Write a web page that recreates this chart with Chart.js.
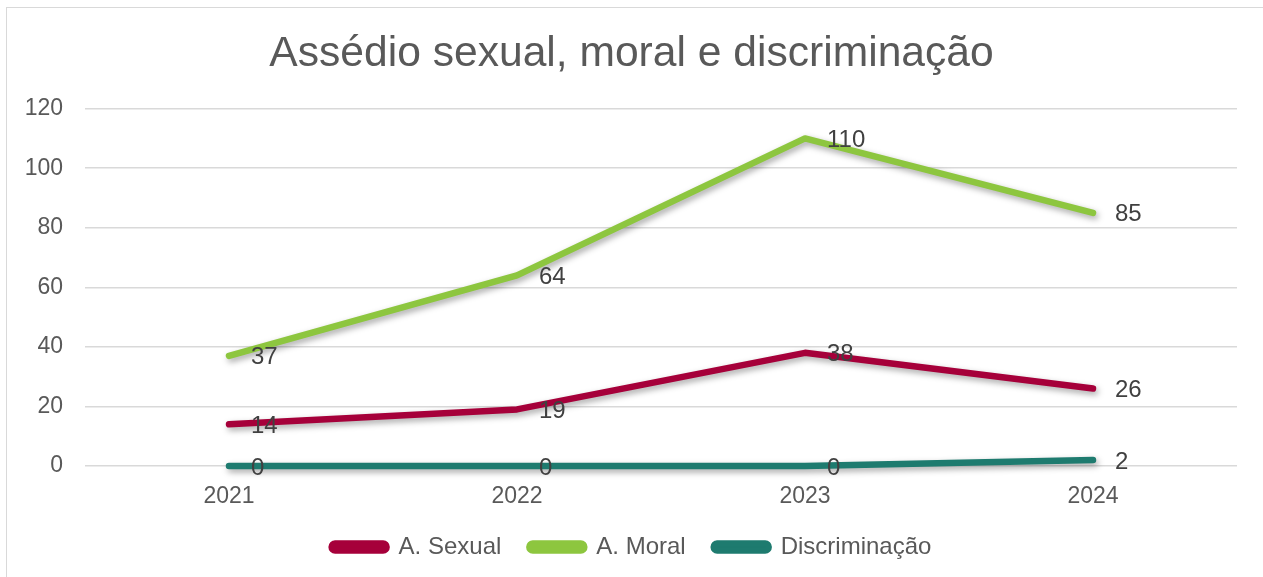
<!DOCTYPE html>
<html>
<head>
<meta charset="utf-8">
<script src="https://cdn.jsdelivr.net/npm/chart.js@4"></script>
<style>
  html, body { margin: 0; padding: 0; background: #fff; overflow: hidden; }
  #wrap { position: absolute; left: 0; top: 0; width: 1263px; height: 577px; }
  #frame { position: absolute; left: 6px; top: 7px; width: 1300px; height: 700px; border: 1.5px solid #d9d9d9; box-sizing: border-box; }
  canvas { position: absolute; left: 0; top: 0; }
</style>
</head>
<body>
<div id="wrap">
  <div id="frame"></div>
  <canvas id="c" width="1263" height="577"></canvas>
</div>
<script>
const titleText = 'Assédio sexual, moral e discriminação';
const categories = ['2021', '2022', '2023', '2024'];
const seriesNames = ['A. Sexual', 'A. Moral', 'Discriminação'];
const sexualValues = [14, 19, 38, 26];
const moralValues = [37, 64, 110, 85];
const discriminacaoValues = [0, 0, 0, 2];
const seriesColors = ['#A6003A', '#8DC63F', '#1E7B6F'];
const yMin = 0, yMax = 120, yStep = 20;

const FONT = "'Liberation Sans', Arial, sans-serif";

const shadowPlugin = {
  id: 'shadow',
  beforeDatasetDraw(chart) {
    const ctx = chart.ctx;
    ctx.save();
    ctx.shadowColor = 'rgba(0,0,0,0.35)';
    ctx.shadowBlur = 6;
    ctx.shadowOffsetX = 2;
    ctx.shadowOffsetY = 3;
  },
  afterDatasetDraw(chart) {
    chart.ctx.restore();
  }
};

const labelPlugin = {
  id: 'valueLabels',
  afterDatasetsDraw(chart) {
    const ctx = chart.ctx;
    ctx.save();
    ctx.font = "24px " + FONT;
    ctx.fillStyle = '#404040';
    ctx.textAlign = 'left';
    ctx.textBaseline = 'middle';
    chart.data.datasets.forEach((ds, i) => {
      const meta = chart.getDatasetMeta(i);
      meta.data.forEach((pt, j) => {
        ctx.fillText(String(ds.data[j]), pt.x + 22, pt.y + 2);
      });
    });
    ctx.restore();
  }
};

const allValues = [sexualValues, moralValues, discriminacaoValues];

new Chart(document.getElementById('c'), {
  type: 'line',
  data: {
    labels: categories,
    datasets: seriesNames.map((name, i) => ({
      label: name,
      data: allValues[i],
      borderColor: seriesColors[i],
      backgroundColor: seriesColors[i],
      borderWidth: 6.5,
      borderCapStyle: 'round',
      borderJoinStyle: 'round',
      pointRadius: 0,
      pointHoverRadius: 0,
      tension: 0,
      fill: false,
      clip: false
    }))
  },
  options: {
    responsive: false,
    animation: false,
    devicePixelRatio: 1,
    layout: { padding: { left: 0, right: 0, top: 4, bottom: 8 } },
    plugins: {
      title: {
        display: true,
        text: titleText,
        color: '#595959',
        font: { family: FONT, size: 42.6, weight: 'normal' },
        padding: { top: 25, bottom: 28.5 }
      },
      legend: {
        position: 'bottom',
        labels: {
          color: '#595959',
          font: { family: FONT, size: 24 },
          boxWidth: 55,
          boxHeight: 7,
          useBorderRadius: true,
          borderRadius: 3.5,
          padding: 28
        }
      },
      tooltip: { enabled: false }
    },
    scales: {
      x: {
        offset: true,
        afterFit(scale) { scale.height = 41; },
        grid: { display: false, drawTicks: false },
        border: { display: false },
        ticks: { color: '#595959', font: { family: FONT, size: 23 }, padding: 17 }
      },
      y: {
        min: yMin,
        max: yMax,
        afterFit(scale) { scale.width = 85; },
        grid: { color: '#d9d9d9', lineWidth: 1.5, drawTicks: false },
        border: { display: false },
        ticks: { stepSize: yStep, color: '#595959', font: { family: FONT, size: 23 }, padding: 22 }
      },
      yRight: {
        position: 'right',
        min: yMin,
        max: yMax,
        afterFit(scale) { scale.width = 26; },
        grid: { display: false, drawTicks: false },
        border: { display: false },
        ticks: { display: false }
      }
    }
  },
  plugins: [shadowPlugin, labelPlugin]
});
</script>
</body>
</html>
